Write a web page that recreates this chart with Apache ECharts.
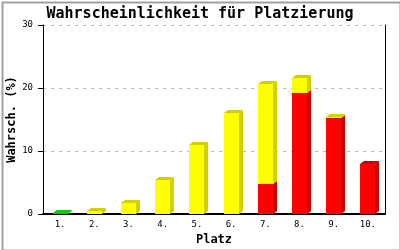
<!DOCTYPE html>
<html><head><meta charset="utf-8">
<script src="https://cdn.jsdelivr.net/npm/echarts@6/dist/echarts.min.js"></script>
<style>html,body{margin:0;padding:0;background:#fff}#c{width:400px;height:250px}</style>
</head><body><div id="c"></div>
<script>
var categories = ["1.","2.","3.","4.","5.","6.","7.","8.","9.","10."];
var redValues = [0,0,0,0,0,0,4.8,19.2,15.3,8.0];
var yellowValues = [0,0.5,1.8,5.4,11.0,16.1,15.8,2.4,0.1,0];
var greenValues = [0.2,0,0,0,0,0,0,0,0,0];
var yTicks = [0,10,20,30];

var DX = 4, DY = 3, W = 15;
function makeRender(front, dark, baseArr, aboveArr){
  return function(params, api){
    var i = api.value(0), v = api.value(1);
    if (!v) return;
    var b = baseArr ? baseArr[i] : 0;
    var p0 = api.coord([i, b]), p1 = api.coord([i, b + v]);
    var x0 = Math.round(p0[0] - W/2), x1 = x0 + W;
    var yB = Math.round(p0[1]), yT = Math.round(p1[1]);
    var ch = [
      {type:'polygon', shape:{points:[[x1,yT],[x1+DX,yT-DY],[x1+DX,yB-DY],[x1,yB]]}, style:{fill:dark}},
      {type:'rect', shape:{x:x0,y:yT,width:W,height:yB-yT}, style:{fill:front}}
    ];
    var isTop = !aboveArr || !aboveArr[i];
    if (isTop) ch.push({type:'polygon', shape:{points:[[x0,yT],[x0+DX,yT-DY],[x1+DX,yT-DY],[x1,yT]]}, style:{fill:dark}});
    return {type:'group', children:ch};
  };
}
function toData(arr){ return arr.map(function(v,i){return [i,v];}); }

var chart = echarts.init(document.getElementById('c'), null, {renderer:'canvas'});
var mono = 'DejaVu Sans Mono';
chart.setOption({
  animation:false,
  backgroundColor:'#fff',
  title:{text:'Wahrscheinlichkeit für Platzierung', left:'center', top:2,
    textStyle:{fontFamily:mono, fontSize:15, fontWeight:'bold', color:'#000'}},
  grid:{left:43, right:15, top:25, bottom:36, containLabel:false, outerBoundsMode:'none'},
  xAxis:{type:'category', data:categories, boundaryGap:true,
    name:'Platz', nameLocation:'middle', nameGap:20, nameMoveOverlap:false,
    nameTextStyle:{fontFamily:mono, fontSize:12, fontWeight:'bold', color:'#000'},
    axisLine:{lineStyle:{color:'#000', width:2}}, axisTick:{show:false},
    axisLabel:{fontFamily:mono, fontSize:9, color:'#000', margin:6}},
  yAxis:[{type:'value', min:0, max:30, interval:10,
    name:'Wahrsch. (%)', nameLocation:'middle', nameGap:25, nameMoveOverlap:false,
    nameTextStyle:{fontFamily:mono, fontSize:12, fontWeight:'bold', color:'#000'},
    axisLine:{show:true, lineStyle:{color:'#000', width:1}},
    axisTick:{show:true, length:5, lineStyle:{color:'#000'}},
    axisLabel:{fontFamily:mono, fontSize:9, color:'#000', margin:10,
      formatter:function(v){return yTicks.indexOf(v)>=0 ? String(v) : '';}},
    splitLine:{show:true, lineStyle:{color:'#bbb', type:[3,5], width:1}}},
   {type:'value', min:0, max:30, interval:10, position:'right',
    axisLine:{show:true, lineStyle:{color:'#000', width:1}},
    axisTick:{show:false}, axisLabel:{show:false}, splitLine:{show:false}}],
  graphic:[{type:'rect', left:0, top:0, shape:{x:0,y:0,width:398,height:248},
    style:{fill:'none', stroke:'#a0a0a0', lineWidth:2}, position:[1,1], z:100}],
  series:[
    {type:'custom', renderItem:makeRender('#ff0000','#cc0000',null,yellowValues), data:toData(redValues), z:2},
    {type:'custom', renderItem:makeRender('#ffff00','#d0d000',redValues,null), data:toData(yellowValues), z:3},
    {type:'custom', renderItem:makeRender('#00cc00','#00cc00',null,null), data:toData(greenValues), z:2}
  ]
});
</script></body></html>
